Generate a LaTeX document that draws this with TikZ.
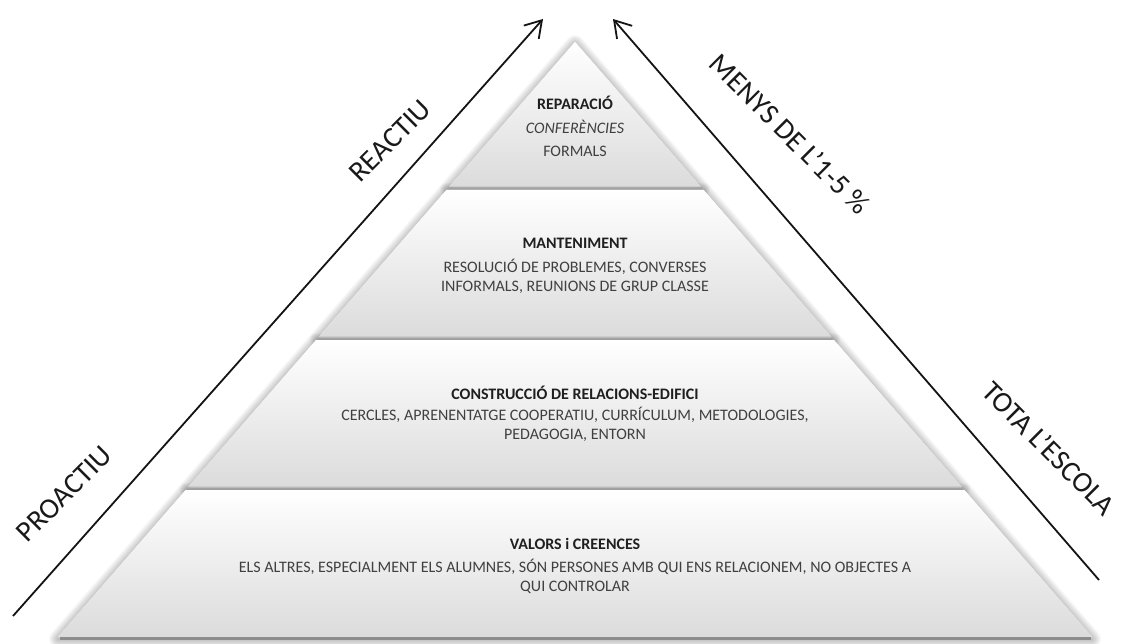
\documentclass[tikz,border=0pt]{standalone}
\usepackage{fontspec}
\setmainfont{Carlito}
\usetikzlibrary{arrows.meta}
\definecolor{txtgray}{HTML}{404040}
\definecolor{ttlgray}{HTML}{1F1F1F}
\begin{document}
\begin{tikzpicture}[x=1pt,y=-1pt,
  bandfill/.style={top color=white, middle color=white, bottom color=black!14},
  shadowring/.style={draw=black, opacity=0.027, line join=round},
  ttlnode/.style={text=ttlgray, font=\fontsize{16}{19}\selectfont\bfseries, inner sep=0pt},
  bodynode/.style={text=txtgray, font=\fontsize{16}{19}\selectfont, align=center, inner sep=0pt},
  bignode/.style={text=black!90, font=\fontsize{29}{34}\selectfont, inner sep=0pt},
  arrowline/.style={line width=1.8pt, black!92, -{Straight Barb[length=16pt,width=20pt,line width=1.8pt]}}
]
\useasboundingbox (0,0) rectangle (1123,644);
\fill[white] (0,0) rectangle (1123,644);

% band shapes
\def\bandA{(575,42) -- (701,187) -- (449,187) -- cycle}
\def\bandB{(446.4,190) -- (703.6,190) -- (831.3,337) -- (318.7,337) -- cycle}
\def\bandC{(316.1,340) -- (833.9,340) -- (961.7,487) -- (188.3,487) -- cycle}
\def\bandD{(185.7,490) -- (964.3,490) -- (1092,637) -- (58,637) -- cycle}

% soft shadows
\foreach \k in {1,...,9}{
  \begin{scope}[yshift=-2pt]
  \draw[shadowring, line width=2*\k pt] \bandA;
  \draw[shadowring, line width=2*\k pt] \bandB;
  \draw[shadowring, line width=2*\k pt] \bandC;
  \draw[shadowring, line width=2*\k pt] \bandD;
  \end{scope}
}
\fill[white] \bandA; \fill[white] \bandB; \fill[white] \bandC; \fill[white] \bandD;
\shade[bandfill] \bandA;
\shade[bandfill] \bandB;
\shade[bandfill] \bandC;
\shade[bandfill] \bandD;
% bottom edges
\draw[black!20, line width=1.5pt] (449,186.5) -- (701,186.5);
\draw[black!20, line width=1.5pt] (318.7,336.5) -- (831.3,336.5);
\draw[black!20, line width=1.5pt] (188.3,486.5) -- (961.7,486.5);
\draw[black!45, line width=3pt] (60,638.5) -- (1091,638.5);

% texts
\node[ttlnode] (t1) at (575,103) {REPARACIÓ};
\node[bodynode] (c1) at (575,127) {\itshape CONFERÈNCIES};
\node[bodynode] (f1) at (575,151) {FORMALS};
\node[ttlnode] (t2) at (575,243) {MANTENIMENT};
\node[bodynode] (b2) at (575,276) {RESOLUCIÓ DE PROBLEMES, CONVERSES\\INFORMALS, REUNIONS DE GRUP CLASSE};
\node[ttlnode] (t3) at (575,393) {CONSTRUCCIÓ DE RELACIONS-EDIFICI};
\node[bodynode] (b3) at (575,424) {CERCLES, APRENENTATGE COOPERATIU, CURRÍCULUM, METODOLOGIES,\\PEDAGOGIA, ENTORN};
\node[ttlnode] (t4) at (575,544) {VALORS i CREENCES};
\node[bodynode] (b4) at (575,576) {ELS ALTRES, ESPECIALMENT ELS ALUMNES, SÓN PERSONES AMB QUI ENS RELACIONEM, NO OBJECTES A\\QUI CONTROLAR};

% arrows
\coordinate (Lstart) at (13,616);
\coordinate (Ltip) at (543,19);
\coordinate (Rstart) at (1099,580);
\coordinate (Rtip) at (613,19);
\draw[arrowline] (Lstart) -- (Ltip);
\draw[arrowline] (Rstart) -- (Rtip);

% side labels
\node[bignode, rotate=45] (proactiu) at (64,494) {PROACTIU};
\node[bignode, rotate=45] (reactiu) at (390,141) {REACTIU};
\node[bignode, rotate=-45] (menys) at (790,134) {MENYS DE L'1-5 \%};
\node[bignode, rotate=-45] (tota) at (1049,448) {TOTA L'ESCOLA};
\end{tikzpicture}
\end{document}
